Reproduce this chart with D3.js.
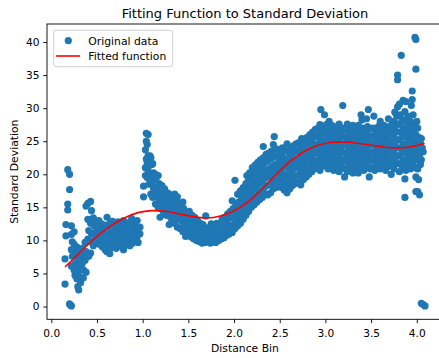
<!DOCTYPE html>
<html lang="en">
<head>
<meta charset="UTF-8">
<script src="https://cdn.jsdelivr.net/npm/d3@7"></script>
<title>Fitting Function to Standard Deviation</title>
<style>
  body { margin: 0; background: #fff; }
  svg text { font-family: "DejaVu Sans", sans-serif; fill: #000; }
</style>
</head>
<body>
<svg width="439" height="358" id="chart"></svg>
<script>
// scatter points [distance bin, std dev]
const pointsLow = [
  [0.18,20.7],[0.20,20.0],[0.20,17.7],[0.18,15.5],[0.18,14.6],[0.16,12.4],[0.16,10.7],[0.15,7.2],[0.15,3.4],[0.20,0.4],[0.22,0.1],[0.21,0.2],
  [0.22,12.2],[0.22,10.9],[0.23,9.8],[0.22,8.6],[0.23,7.6],[0.22,6.1],
  [0.25,11.3],[0.25,9.4],[0.26,8.6],[0.25,7.8],[0.26,6.5],[0.25,5.5],[0.26,4.7],
  [0.28,9.0],[0.28,8.1],[0.29,7.0],[0.28,6.1],[0.29,5.3],[0.28,4.2],[0.29,3.0],[0.30,2.5],
  [0.31,8.4],[0.32,7.3],[0.31,6.2],[0.32,5.5],[0.31,4.5],[0.32,3.6],
  [0.34,8.8],[0.35,7.6],[0.34,6.6],[0.35,5.6],[0.35,4.3],
  [0.37,9.7],[0.38,8.3],[0.37,7.0],[0.38,5.2],[0.38,15.2],
  [0.40,15.6],[0.40,13.2],[0.41,11.5],[0.40,10.2],[0.43,8.1],[0.41,7.6],
  [0.43,15.9],[0.44,14.5],[0.43,12.6],[0.44,11.0],[0.43,9.8],
  [0.46,13.4],[0.47,12.2],[0.46,11.1],[0.47,10.0],[0.46,9.2],
  [0.49,12.8],[0.50,11.5],[0.49,10.5],[0.50,9.6],
  [0.52,13.0],[0.53,11.8],[0.52,10.7],[0.53,9.4],
  [0.55,12.5],[0.56,11.4],[0.55,10.2],[0.56,9.0],
  [0.58,12.3],[0.59,11.0],[0.58,9.8],[0.59,8.6],
  [0.61,13.5],[0.62,12.0],[0.61,10.8],[0.62,9.5],[0.61,8.3],
  [0.64,12.6],[0.65,11.3],[0.64,10.0],[0.65,8.9],[0.64,8.0],
  [0.67,12.9],[0.68,11.7],[0.67,10.4],[0.68,9.2],
  [0.70,12.2],[0.71,11.0],[0.70,9.8],[0.71,8.8],
  [0.73,12.8],[0.74,11.5],[0.73,10.3],[0.74,9.3],
  [0.76,12.4],[0.77,11.2],[0.76,10.0],[0.77,9.0],
  [0.79,13.0],[0.80,11.6],[0.79,10.5],[0.80,9.4],[0.79,8.6],
  [0.82,12.3],[0.83,11.0],[0.82,9.8],
  [0.85,12.7],[0.86,11.4],[0.85,10.2],[0.86,9.2],
  [0.88,13.3],[0.89,12.0],[0.88,10.8],[0.89,9.6],
  [0.91,12.6],[0.92,11.5],[0.91,10.4],
  [0.94,13.0],[0.95,11.8],[0.94,10.6],[0.95,9.7],
  [0.97,12.0],[0.97,11.0]
];
const pointsMid = [
  [1.01,16.6],[1.01,18.2],
  [1.03,19.8],[1.03,21.0],[1.04,22.3],[1.03,23.7],[1.04,25.0],[1.04,26.2],
  [1.05,19.5],[1.06,20.5],[1.05,21.8],[1.06,22.8],[1.05,24.5],[1.06,26.0],
  [1.07,18.5],[1.08,19.8],[1.07,21.3],[1.08,22.8],
  [1.09,17.0],[1.10,18.5],[1.09,20.0],[1.10,21.5],[1.09,22.5],
  [1.11,16.5],[1.12,17.8],[1.11,19.0],[1.12,20.2],[1.11,21.6],
  [1.14,15.5],[1.15,16.8],[1.14,18.0],[1.15,19.5],[1.14,20.0],
  [1.17,15.0],[1.18,16.2],[1.17,17.4],[1.18,18.6],[1.17,19.8],[1.19,13.5],
  [1.20,14.8],[1.21,15.9],[1.20,17.0],[1.21,18.3],
  [1.23,14.2],[1.24,15.4],[1.23,16.6],[1.24,17.8],
  [1.26,13.8],[1.27,15.0],[1.26,16.2],[1.27,17.2],
  [1.29,12.4],[1.30,13.6],[1.29,14.7],[1.30,15.8],[1.29,17.0],
  [1.32,13.0],[1.33,14.2],[1.32,15.4],[1.33,16.6],
  [1.35,12.6],[1.36,13.8],[1.35,15.0],[1.36,16.2],[1.35,17.0],
  [1.38,12.0],[1.39,13.3],[1.38,14.5],[1.39,15.7],[1.38,16.6],
  [1.41,11.8],[1.42,13.0],[1.41,14.2],[1.42,15.4],
  [1.44,11.3],[1.45,12.5],[1.44,13.7],[1.45,14.8],[1.44,15.8],
  [1.47,10.6],[1.48,11.8],[1.47,13.0],[1.48,14.2],
  [1.50,10.8],[1.51,12.0],[1.50,13.2],[1.51,14.4],
  [1.53,10.5],[1.54,11.6],[1.53,12.8],[1.54,13.8],
  [1.56,10.2],[1.57,11.4],[1.56,12.5],[1.57,13.5],
  [1.59,10.0],[1.60,11.0],[1.59,12.0],[1.60,13.0],
  [1.62,9.8],[1.63,10.8],[1.62,11.8],[1.63,12.6],
  [1.65,9.6],[1.66,10.6],[1.65,11.6],[1.66,12.4],
  [1.68,9.7],[1.69,10.8],[1.68,11.8],[1.69,13.7],
  [1.71,9.9],[1.72,10.9],[1.71,11.9],
  [1.74,9.6],[1.75,10.6],[1.74,11.7],[1.75,12.5],
  [1.77,9.8],[1.78,10.9],[1.77,12.0],
  [1.80,9.7],[1.81,10.7],[1.80,11.8],[1.81,12.6],
  [1.83,10.0],[1.84,11.0],[1.83,12.1],
  [1.86,10.2],[1.87,11.2],[1.86,12.3],[1.87,13.2],
  [1.89,10.4],[1.90,11.5],[1.89,12.6],[1.90,13.5],
  [1.92,10.8],[1.93,11.9],[1.92,13.0],[1.93,14.0],
  [1.95,11.0],[1.96,12.2],[1.95,13.4],[1.96,14.4],
  [1.98,11.2],[1.99,12.4],[1.98,13.6],[1.99,14.8],[1.98,16.0],
  [2.01,11.8],[2.02,13.0],[2.01,14.2],[2.02,15.4],[2.01,19.1],
  [2.04,12.2],[2.05,13.4],[2.04,14.6],[2.05,15.8],[2.04,17.0],
  [2.07,12.6],[2.08,13.8],[2.07,15.0],[2.08,16.2],[2.07,17.5],
  [2.10,13.2],[2.11,14.4],[2.10,15.6],[2.11,16.8],[2.10,18.0],
  [2.13,13.8],[2.14,15.0],[2.13,16.2],[2.14,17.4],[2.13,18.6],[2.14,19.8],
  [2.16,14.4],[2.17,15.6],[2.16,16.8],[2.17,18.0],[2.16,19.2],[2.17,20.2],
  [2.19,15.0],[2.20,16.2],[2.19,17.4],[2.20,18.6],[2.19,19.8],[2.20,21.0],
  [2.22,15.4],[2.23,16.6],[2.22,17.8],[2.23,19.0],[2.22,20.2],[2.23,21.4],
  [2.25,15.8],[2.26,17.0],[2.25,18.2],[2.26,19.4],[2.25,20.6],[2.26,21.8],
  [2.28,16.2],[2.29,17.4],[2.28,18.6],[2.29,19.8],[2.28,21.0],[2.29,22.2]
];
const pointsHigh = [
  [2.31,16.5],[2.32,17.7],[2.31,18.9],[2.32,20.1],[2.31,21.3],[2.32,22.5],[2.32,24.2],
  [2.34,17.0],[2.35,18.2],[2.34,19.4],[2.35,20.6],[2.34,21.8],[2.35,23.0],
  [2.37,16.9],[2.38,18.4],[2.37,19.6],[2.38,20.8],[2.37,22.0],[2.38,23.2],
  [2.40,17.2],[2.41,18.7],[2.40,19.9],[2.41,21.1],[2.40,22.3],[2.41,23.5],
  [2.43,17.8],[2.44,19.0],[2.43,20.2],[2.44,21.4],[2.43,22.6],[2.43,24.5],[2.44,25.7],
  [2.46,18.0],[2.47,19.2],[2.46,20.4],[2.47,21.6],[2.46,22.8],[2.47,23.8],
  [2.49,18.4],[2.50,19.6],[2.49,20.8],[2.50,22.0],[2.49,23.2],
  [2.52,18.0],[2.53,19.2],[2.52,20.4],[2.53,21.6],[2.52,22.8],[2.53,24.0],
  [2.55,17.6],[2.56,18.8],[2.55,20.0],[2.56,21.2],[2.55,22.4],[2.56,23.6],
  [2.58,17.2],[2.59,18.5],[2.58,19.8],[2.59,21.0],[2.58,22.2],[2.59,23.4],[2.58,24.6],
  [2.61,17.8],[2.62,19.0],[2.61,20.2],[2.62,21.4],[2.61,22.6],[2.62,23.8],
  [2.64,18.3],[2.65,19.5],[2.64,20.7],[2.65,21.9],[2.64,23.1],[2.65,24.3],
  [2.67,18.6],[2.68,19.8],[2.67,21.0],[2.68,22.2],[2.67,23.4],[2.68,24.6],
  [2.70,18.8],[2.71,20.0],[2.70,21.2],[2.71,22.4],[2.70,23.6],[2.71,24.8],
  [2.73,18.4],[2.74,19.6],[2.73,20.8],[2.74,22.0],[2.73,23.2],[2.74,24.4],[2.74,25.4],
  [2.76,19.2],[2.77,20.4],[2.76,21.6],[2.77,22.8],[2.76,24.0],[2.77,25.2],
  [2.79,19.6],[2.80,20.8],[2.79,22.0],[2.80,23.2],[2.79,24.4],[2.80,25.6],
  [2.82,20.0],[2.83,21.2],[2.82,22.4],[2.83,23.6],[2.82,24.8],[2.83,26.0],
  [2.85,20.4],[2.86,21.6],[2.85,22.8],[2.86,24.0],[2.85,25.2],[2.86,26.4],
  [2.88,20.8],[2.89,22.0],[2.88,23.2],[2.89,24.4],[2.88,25.6],[2.89,26.8],
  [2.91,21.0],[2.92,22.2],[2.91,23.4],[2.92,24.6],[2.91,25.8],[2.92,27.0],
  [2.94,20.6],[2.95,21.8],[2.94,23.0],[2.95,24.2],[2.94,25.4],[2.95,26.6],[2.94,27.5],[2.95,29.8],
  [2.97,21.2],[2.98,22.4],[2.97,23.6],[2.98,24.8],[2.97,26.0],[2.98,27.2],[2.99,29.0],
  [3.00,21.5],[3.01,22.7],[3.00,23.9],[3.01,25.1],[3.00,26.3],[3.01,27.5],
  [3.03,20.8],[3.04,22.0],[3.03,23.2],[3.04,24.4],[3.03,25.6],[3.04,26.8],[3.04,28.0],
  [3.06,21.4],[3.07,22.6],[3.06,23.8],[3.07,25.0],[3.06,26.2],[3.07,27.4],
  [3.09,20.6],[3.10,21.8],[3.09,23.0],[3.10,24.2],[3.09,25.4],[3.10,26.6],
  [3.12,21.2],[3.13,22.4],[3.12,23.6],[3.13,24.8],[3.12,26.0],[3.13,27.2],
  [3.15,20.4],[3.16,21.6],[3.15,22.8],[3.16,24.0],[3.15,25.2],[3.16,26.4],[3.15,27.6],
  [3.18,21.0],[3.19,22.2],[3.18,23.4],[3.19,24.6],[3.18,25.8],[3.19,27.0],[3.19,30.4],
  [3.21,19.6],[3.22,20.8],[3.21,22.0],[3.22,23.2],[3.21,24.4],[3.22,25.6],[3.21,26.8],
  [3.24,20.4],[3.25,21.6],[3.24,22.8],[3.25,24.0],[3.24,25.2],[3.25,26.4],[3.24,27.6],
  [3.27,20.8],[3.28,22.0],[3.27,23.2],[3.28,24.4],[3.27,25.6],[3.28,26.8],
  [3.30,20.2],[3.31,21.4],[3.30,22.6],[3.31,23.8],[3.30,25.0],[3.31,26.2],[3.30,27.4],
  [3.33,20.6],[3.34,21.8],[3.33,23.0],[3.34,24.2],[3.33,25.4],[3.34,26.6],
  [3.36,20.2],[3.37,21.4],[3.36,22.6],[3.37,23.8],[3.36,25.0],[3.37,26.2],[3.36,27.4],[3.39,29.0],
  [3.39,21.0],[3.40,22.2],[3.39,23.4],[3.40,24.6],[3.39,25.8],[3.40,27.0],[3.40,28.2],
  [3.42,20.6],[3.43,21.8],[3.42,23.0],[3.43,24.2],[3.42,25.4],[3.43,26.6],
  [3.45,21.2],[3.46,22.4],[3.45,23.6],[3.46,24.8],[3.45,26.0],[3.46,27.2],[3.45,28.4],
  [3.48,19.6],[3.49,20.8],[3.48,22.0],[3.49,23.2],[3.48,24.4],[3.49,25.6],[3.48,26.8],[3.47,29.8],
  [3.51,21.0],[3.52,22.2],[3.51,23.4],[3.52,24.6],[3.51,25.8],[3.52,27.0],
  [3.54,20.6],[3.55,21.8],[3.54,23.0],[3.55,24.2],[3.54,25.4],[3.55,26.6],[3.53,28.8],
  [3.57,21.2],[3.58,22.4],[3.57,23.6],[3.58,24.8],[3.57,26.0],[3.58,27.2],
  [3.60,20.8],[3.61,22.0],[3.60,23.2],[3.61,24.4],[3.60,25.6],[3.61,26.8],[3.60,28.0],
  [3.63,21.4],[3.64,22.6],[3.63,23.8],[3.64,25.0],[3.63,26.2],[3.64,27.4],
  [3.66,20.6],[3.67,21.8],[3.66,23.0],[3.67,24.2],[3.66,25.4],[3.67,26.6],
  [3.69,21.2],[3.70,22.4],[3.69,23.6],[3.70,24.8],[3.69,26.0],[3.70,27.2],[3.69,28.4],
  [3.72,20.0],[3.73,21.4],[3.72,22.6],[3.73,23.8],[3.72,25.0],[3.73,26.2],[3.72,27.4],
  [3.75,20.8],[3.76,22.0],[3.75,23.2],[3.76,24.4],[3.75,25.6],[3.76,26.8],[3.75,28.0],[3.76,29.4],
  [3.78,21.6],[3.79,22.8],[3.78,24.0],[3.79,25.2],[3.78,26.4],[3.79,27.6],[3.78,28.8],[3.79,30.2],[3.79,34.3],[3.79,35.0],
  [3.81,20.4],[3.82,21.6],[3.81,22.8],[3.82,24.0],[3.81,25.2],[3.82,26.4],[3.81,27.6],[3.82,29.0],[3.81,30.6],
  [3.84,21.0],[3.85,22.2],[3.84,23.4],[3.85,24.6],[3.84,25.8],[3.85,27.0],[3.84,28.2],[3.85,31.2],[3.83,38.0],
  [3.87,16.5],[3.87,19.3],[3.88,20.6],[3.87,22.0],[3.88,23.2],[3.87,24.4],[3.88,25.6],[3.87,26.8],[3.88,28.0],[3.87,29.5],[3.88,31.0],
  [3.90,21.6],[3.91,22.8],[3.90,24.0],[3.91,25.2],[3.90,26.4],[3.91,27.6],[3.90,28.8],
  [3.93,20.8],[3.94,22.0],[3.93,23.2],[3.94,24.4],[3.93,25.6],[3.94,26.8],[3.93,28.0],[3.94,30.4],
  [3.96,21.4],[3.97,22.6],[3.96,23.8],[3.97,25.0],[3.96,26.2],[3.97,27.4],[3.96,29.0],[3.95,31.3],[3.95,32.6],
  [3.99,17.4],[3.99,19.6],[3.99,21.0],[4.00,22.2],[3.99,23.4],[4.00,24.6],[3.99,26.0],[4.00,28.0],[3.99,35.9],[3.98,40.7],
  [4.01,17.4],[4.02,19.2],[4.01,20.8],[4.02,22.4],[4.01,24.0],[4.02,25.6],[4.01,27.0],[3.99,40.4],
  [4.03,16.9],[4.04,21.5],[4.03,23.0],[4.04,24.6],
  [4.05,22.2],[4.06,24.0],[4.05,25.4],[4.05,0.5],
  [4.07,23.4],[4.07,0.3],[4.09,0.1]
];

// fitted curve
const fitX = [0.15,0.25,0.35,0.5,0.65,0.8,0.95,1.1,1.25,1.4,1.55,1.7,1.85,2.0,2.15,2.3,2.45,2.6,2.75,2.9,3.05,3.2,3.35,3.5,3.65,3.8,3.95,4.085];
const fitY = [6.0,7.3,8.7,10.6,12.2,13.4,14.2,14.5,14.4,14.0,13.6,13.4,13.7,14.5,15.8,17.7,19.8,21.8,23.3,24.3,24.8,24.9,24.7,24.4,24.1,24.0,24.2,24.7];

const xTicks = [0, 0.5, 1.0, 1.5, 2.0, 2.5, 3.0, 3.5, 4.0];
const yTicks = [0, 5, 10, 15, 20, 25, 30, 35, 40];

const points = pointsLow.concat(pointsMid, pointsHigh);

let svg = d3.select("#chart");

// axes box, right edge runs just past the window like the original
const plotLeft = 47, plotTop = 24, plotRight = 443, plotBottom = 319.3;

// 5% padding on the data range, same as matplotlib
const xExt = d3.extent(points, d => d[0]);
const yExt = d3.extent(points, d => d[1]);
const xPad = (xExt[1] - xExt[0]) * 0.05;
const yPad = (yExt[1] - yExt[0]) * 0.05;

let x = d3.scaleLinear().domain([xExt[0] - xPad, xExt[1] + xPad]).range([plotLeft, plotRight]);
let y = d3.scaleLinear().domain([yExt[0] - yPad, yExt[1] + yPad]).range([plotBottom, plotTop]);

// scatter
svg.append("g")
  .selectAll("circle")
  .data(points)
  .enter()
  .append("circle")
  .attr("cx", d => x(d[0]))
  .attr("cy", d => y(d[1]))
  .attr("r", 3.6)
  .attr("fill", "#1f77b4");

// fitted line
let line = d3.line()
  .x(d => x(d[0]))
  .y(d => y(d[1]))
  .curve(d3.curveCatmullRom);

svg.append("path")
  .datum(d3.zip(fitX, fitY))
  .attr("d", line)
  .attr("fill", "none")
  .attr("stroke", "#ff0000")
  .attr("stroke-width", 1.6);

// frame
svg.append("rect")
  .attr("x", plotLeft).attr("y", plotTop)
  .attr("width", plotRight - plotLeft).attr("height", plotBottom - plotTop)
  .attr("fill", "none")
  .attr("stroke", "#000")
  .attr("stroke-width", 0.9);

// x axis
let xAxis = svg.append("g")
  .attr("transform", `translate(0,${plotBottom})`)
  .call(d3.axisBottom(x).tickValues(xTicks).tickFormat(d3.format(".1f")).tickSize(3.8).tickPadding(6.2));
xAxis.select(".domain").remove();
xAxis.selectAll("line").attr("stroke", "#000").attr("stroke-width", 0.9);
xAxis.selectAll("text").style("font-size", "10.6px").attr("fill", "#000");

// y axis
let yAxis = svg.append("g")
  .attr("transform", `translate(${plotLeft},0)`)
  .call(d3.axisLeft(y).tickValues(yTicks).tickSize(3.8).tickPadding(3.8));
yAxis.select(".domain").remove();
yAxis.selectAll("line").attr("stroke", "#000").attr("stroke-width", 0.9);
yAxis.selectAll("text").style("font-size", "10.6px").attr("fill", "#000");

// labels
svg.append("text")
  .text("Fitting Function to Standard Deviation")
  .attr("x", (plotLeft + plotRight) / 2)
  .attr("y", 18)
  .attr("text-anchor", "middle")
  .style("font-size", "13px");

svg.append("text")
  .text("Distance Bin")
  .attr("x", (plotLeft + plotRight) / 2)
  .attr("y", 351.5)
  .attr("text-anchor", "middle")
  .style("font-size", "10.8px");

svg.append("text")
  .text("Standard Deviation")
  .attr("transform", `translate(18.3,${(plotTop + plotBottom) / 2}) rotate(-90)`)
  .attr("text-anchor", "middle")
  .style("font-size", "10.8px");

// legend
let legend = svg.append("g");
legend.append("rect")
  .attr("x", 53.7).attr("y", 30.3)
  .attr("width", 119).attr("height", 36.4)
  .attr("rx", 2.5)
  .attr("fill", "#fff").attr("fill-opacity", 0.8)
  .attr("stroke", "#ccc").attr("stroke-width", 0.9);
legend.append("circle")
  .attr("cx", 68.3).attr("cy", 40.7).attr("r", 3.6)
  .attr("fill", "#1f77b4");
legend.append("text")
  .text("Original data")
  .attr("x", 88.3).attr("y", 44.6)
  .style("font-size", "10.8px");
legend.append("line")
  .attr("x1", 56).attr("x2", 80)
  .attr("y1", 56).attr("y2", 56)
  .attr("stroke", "#ff0000").attr("stroke-width", 1.6);
legend.append("text")
  .text("Fitted function")
  .attr("x", 88.3).attr("y", 60)
  .style("font-size", "10.8px");
</script>
</body>
</html>
